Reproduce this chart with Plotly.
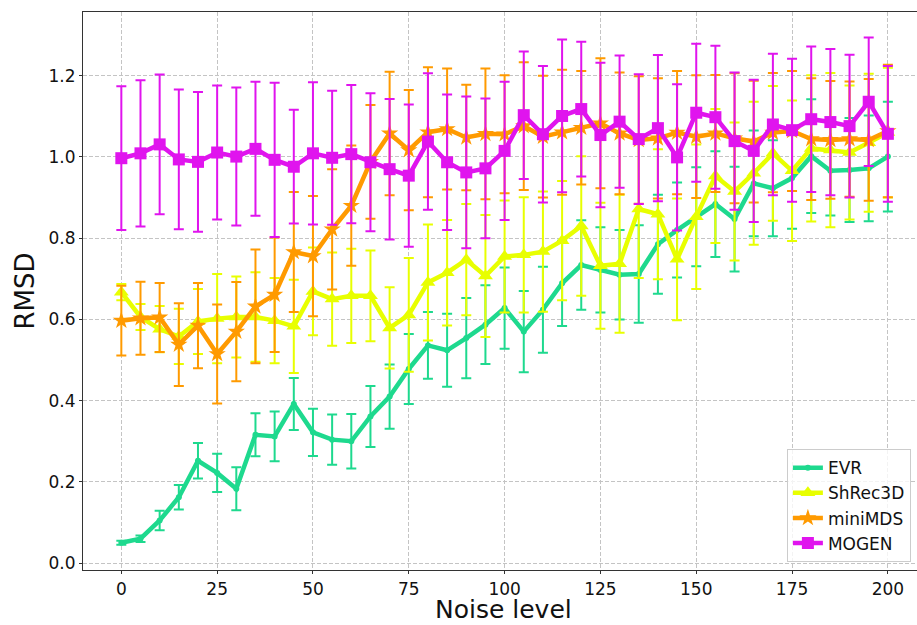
import plotly.graph_objects as go

noise = list(range(0, 205, 5))

evr = [0.050, 0.060, 0.105, 0.162, 0.252, 0.222, 0.183, 0.316, 0.312, 0.392, 0.322, 0.304, 0.300, 0.361,
       0.410, 0.478, 0.536, 0.524, 0.554, 0.587, 0.628, 0.570, 0.624, 0.689, 0.734, 0.722, 0.710, 0.712,
       0.785, 0.820, 0.853, 0.884, 0.847, 0.935, 0.923, 0.948, 1.002, 0.966, 0.968, 0.972, 1.001]
evr_err = [0.005, 0.008, 0.024, 0.030, 0.044, 0.047, 0.053, 0.053, 0.061, 0.064, 0.058, 0.062, 0.067, 0.075,
           0.079, 0.086, 0.082, 0.090, 0.099, 0.097, 0.100, 0.100, 0.106, 0.105, 0.110, 0.105, 0.110, 0.120,
           0.122, 0.117, 0.122, 0.130, 0.129, 0.130, 0.118, 0.125, 0.140, 0.110, 0.128, 0.130, 0.135]

shrec = [0.667, 0.606, 0.576, 0.558, 0.595, 0.602, 0.606, 0.606, 0.597, 0.583, 0.669, 0.650, 0.658, 0.658,
         0.579, 0.611, 0.691, 0.715, 0.747, 0.707, 0.755, 0.759, 0.767, 0.794, 0.830, 0.732, 0.737, 0.872,
         0.859, 0.748, 0.853, 0.953, 0.915, 0.960, 1.009, 0.966, 1.021, 1.017, 1.011, 1.035, 1.060]
shrec_err = [0.020, 0.032, 0.057, 0.068, 0.080, 0.110, 0.100, 0.110, 0.105, 0.115, 0.108, 0.115, 0.116, 0.112,
             0.100, 0.140, 0.143, 0.130, 0.137, 0.150, 0.138, 0.142, 0.148, 0.147, 0.172, 0.155, 0.170, 0.170,
             0.160, 0.150, 0.178, 0.165, 0.170, 0.176, 0.166, 0.173, 0.180, 0.190, 0.165, 0.170, 0.160]

minimds = [0.597, 0.603, 0.605, 0.538, 0.585, 0.515, 0.570, 0.632, 0.661, 0.766, 0.756, 0.822, 0.880, 0.988,
           1.058, 1.017, 1.061, 1.069, 1.048, 1.057, 1.056, 1.076, 1.050, 1.061, 1.072, 1.083, 1.058, 1.042,
           1.046, 1.060, 1.050, 1.058, 1.046, 1.038, 1.060, 1.064, 1.044, 1.042, 1.044, 1.042, 1.064]
minimds_err = [0.086, 0.090, 0.085, 0.102, 0.105, 0.122, 0.122, 0.140, 0.141, 0.148, 0.148, 0.148, 0.148, 0.140,
               0.152, 0.148, 0.160, 0.149, 0.130, 0.161, 0.145, 0.157, 0.150, 0.154, 0.140, 0.160, 0.150, 0.157,
               0.148, 0.152, 0.151, 0.144, 0.160, 0.150, 0.147, 0.148, 0.150, 0.145, 0.142, 0.150, 0.163]

mogen = [0.997, 1.009, 1.031, 0.994, 0.988, 1.011, 1.001, 1.020, 0.993, 0.976, 1.009, 0.998, 1.007, 0.987,
         0.970, 0.954, 1.038, 0.987, 0.962, 0.972, 1.015, 1.103, 1.056, 1.101, 1.118, 1.054, 1.087, 1.044,
         1.071, 0.999, 1.109, 1.098, 1.039, 1.015, 1.080, 1.066, 1.093, 1.086, 1.076, 1.136, 1.057]
mogen_err = [0.177, 0.180, 0.172, 0.172, 0.172, 0.165, 0.170, 0.165, 0.190, 0.140, 0.175, 0.165, 0.170, 0.170,
             0.173, 0.175, 0.168, 0.167, 0.187, 0.172, 0.170, 0.157, 0.168, 0.188, 0.166, 0.178, 0.163, 0.160,
             0.180, 0.180, 0.170, 0.176, 0.169, 0.175, 0.174, 0.176, 0.179, 0.180, 0.176, 0.158, 0.167]

series = [
    ("EVR", evr, evr_err, "#1ed98e", "circle", 6),
    ("ShRec3D", shrec, shrec_err, "#e8ff00", "triangle-up", 13),
    ("miniMDS", minimds, minimds_err, "#ff9a00", "star", 13),
    ("MOGEN", mogen, mogen_err, "#e014ee", "square", 12),
]

fig = go.Figure()
for name, vals, errs, color, sym, size in series:
    fig.add_trace(go.Scatter(
        x=noise, y=vals, name=name, mode="lines+markers",
        line=dict(color=color, width=4.5),
        marker=dict(color=color, symbol=sym, size=size, line=dict(width=0)),
        error_y=dict(type="data", array=errs, visible=True, color=color, thickness=2, width=5),
    ))

axis_common = dict(
    showline=True, linecolor="#333333", linewidth=1.2, mirror=True,
    ticks="outside", ticklen=3, tickcolor="#333333", tickwidth=1,
    showgrid=True, gridcolor="#c4c4c4", griddash="4px,2px", gridwidth=1,
    zeroline=False, tickfont=dict(size=17, color="#111111"),
)

fig.update_layout(
    width=917, height=625,
    paper_bgcolor="white", plot_bgcolor="white",
    font=dict(family="DejaVu Sans", color="#111111"),
    margin=dict(l=83, r=0, t=12, b=55),
    xaxis=dict(range=[-10, 207.6], tickvals=[0, 25, 50, 75, 100, 125, 150, 175, 200], **axis_common),
    yaxis=dict(range=[-0.017, 1.357], tickvals=[0.0, 0.2, 0.4, 0.6, 0.8, 1.0, 1.2], tickformat=".1f",
               title=dict(text="RMSD", font=dict(size=26), standoff=6), **axis_common),
    legend=dict(x=0.844, y=0.014, xanchor="left", yanchor="bottom",
                bgcolor="rgba(255,255,255,0.8)", bordercolor="#cccccc", borderwidth=1,
                font=dict(size=17), tracegroupgap=0),
    showlegend=True,
    annotations=[dict(text="Noise level", xref="paper", yref="paper", x=0.5036, y=-0.0699,
                      xanchor="center", yanchor="middle", showarrow=False,
                      font=dict(size=25, color="#111111"))],
)

fig.write_html("out.html", config={"displayModeBar": False},
               post_script="document.body.style.margin='0';document.body.style.overflow='hidden';")
